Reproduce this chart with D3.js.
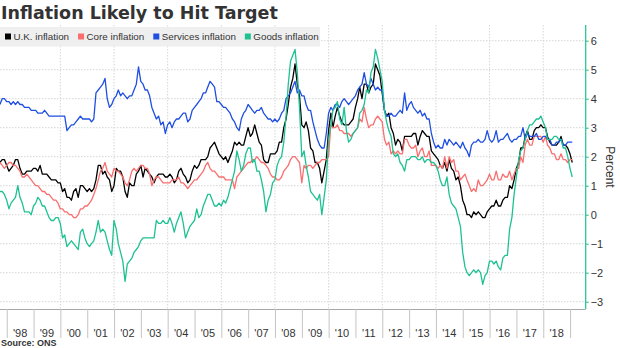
<!DOCTYPE html>
<html>
<head>
<meta charset="utf-8">
<style>
  body { margin: 0; background: #fff; }
  svg { display: block; }
  text { font-family: "Liberation Sans", Arial, sans-serif; fill: #333; }
</style>
</head>
<body>
<svg id="chart" width="620" height="348"></svg>
<script src="https://d3js.org/d3.v7.min.js"></script>
<script>
// monthly readings, Sep 1997 .. Jan 2019 (annual % change)
const firstMonth = [1997, 8]; // Sep 1997

const ukInflation = [
  1.8, 1.9, 1.9, 1.7,
  1.5, 1.6, 1.7, 1.9, 1.9, 1.6, 1.4, 1.4, 1.5, 1.5, 1.5, 1.6,
  1.6, 1.5, 1.7, 1.4, 1.4, 1.4, 1.3, 1.2, 1.2, 1.2, 1.1, 1.1,
  0.8, 0.9, 0.6, 0.6, 0.5, 0.8, 0.9, 0.6, 1.0, 1.0, 0.9, 0.8,
  0.9, 0.8, 0.9, 1.2, 1.7, 1.7, 1.4, 1.5, 1.3, 1.2, 0.8, 1.0,
  1.6, 1.5, 1.5, 1.3, 0.8, 0.6, 1.1, 1.0, 1.0, 1.4, 1.5, 1.7,
  1.3, 1.6, 1.5, 1.4, 1.3, 1.1, 1.3, 1.4, 1.4, 1.4, 1.3, 1.3,
  1.4, 1.3, 1.1, 1.2, 1.5, 1.6, 1.4, 1.3, 1.1, 1.2, 1.5, 1.7,
  1.6, 1.7, 1.9, 1.9, 1.9, 2.0, 2.3, 2.4, 2.5, 2.3, 2.1, 2.0,
  1.9, 2.0, 1.8, 2.0, 2.2, 2.5, 2.4, 2.5, 2.4, 2.4, 2.7, 3.0,
  2.7, 2.8, 3.1, 2.8, 2.5, 2.4, 1.9, 1.8, 1.8, 2.1, 2.1, 2.1,
  2.2, 2.5, 2.5, 3.0, 3.3, 3.8, 4.4, 4.7, 5.2, 4.5, 4.1, 3.1,
  3.0, 3.2, 2.9, 2.3, 2.2, 1.8, 1.8, 1.6, 1.1, 1.5, 1.9, 2.9,
  3.5, 3.0, 3.4, 3.7, 3.4, 3.2, 3.1, 3.1, 3.1, 3.2, 3.3, 3.7,
  4.0, 4.4, 4.0, 4.5, 4.5, 4.2, 4.4, 4.5, 5.2, 5.0, 4.8, 4.2,
  3.6, 3.4, 3.5, 3.0, 2.8, 2.4, 2.6, 2.5, 2.2, 2.7, 2.7, 2.7,
  2.7, 2.8, 2.8, 2.4, 2.7, 2.9, 2.8, 2.7, 2.7, 2.2, 2.1, 2.0,
  1.9, 1.7, 1.6, 1.8, 1.5, 1.9, 1.6, 1.5, 1.2, 1.3, 1.0, 0.5,
  0.3, 0.0, 0.0, -0.1, 0.1, 0.0, 0.1, 0.0, -0.1, -0.1, 0.1, 0.2,
  0.3, 0.3, 0.5, 0.3, 0.3, 0.5, 0.6, 0.6, 1.0, 0.9, 1.2, 1.6,
  1.8, 2.3, 2.3, 2.7, 2.9, 2.6, 2.6, 2.9, 3.0, 3.0, 3.1, 3.0,
  3.0, 2.7, 2.5, 2.4, 2.4, 2.4, 2.5, 2.7, 2.4, 2.4, 2.3, 2.1,
  1.8
];

const coreInflation = [
  1.8, 1.7, 1.6, 1.7,
  1.8, 1.8, 1.7, 1.7, 1.6, 1.5, 1.3, 1.3, 1.4, 1.3, 1.2, 1.1,
  1.0, 1.0, 0.9, 0.8, 0.8, 0.7, 0.7, 0.6, 0.5, 0.5, 0.4, 0.2,
  0.2, 0.1, 0.1, 0.0, 0.0, -0.1, -0.1, 0.0, 0.2, 0.2, 0.3, 0.3,
  0.4, 0.5, 0.7, 0.9, 1.2, 1.5, 1.6, 1.8, 1.5, 1.4, 1.3, 1.6,
  1.5, 1.5, 1.4, 1.3, 1.1, 1.0, 1.2, 1.5, 1.6, 1.5, 1.6, 1.7,
  1.7, 1.6, 1.6, 1.4, 1.0, 1.2, 1.3, 1.3, 1.2, 1.1, 1.1, 1.1,
  1.1, 1.2, 1.2, 1.2, 1.3, 1.1, 1.1, 1.0, 0.9, 1.0, 1.1, 1.2,
  1.2, 1.3, 1.4, 1.5, 1.7, 1.8, 1.6, 1.5, 1.5, 1.4, 1.3, 1.3,
  1.3, 1.2, 1.2, 1.2, 1.2, 0.9, 1.3, 1.4, 1.5, 1.6, 1.7, 1.8,
  1.8, 1.9, 1.9, 2.0, 1.9, 1.8, 1.8, 1.7, 1.6, 1.4, 1.3, 1.3,
  1.2, 1.2, 1.3, 1.5, 1.6, 1.7, 1.9, 2.0, 2.0, 1.9, 1.8, 1.1,
  1.7, 1.6, 1.7, 1.7, 1.6, 1.7, 1.8, 1.8, 1.9, 1.9, 1.9, 2.0,
  3.1, 3.0, 3.0, 3.1, 2.9, 2.9, 2.8, 2.8, 2.8, 2.7, 2.8, 2.9,
  3.0, 3.3, 3.2, 3.7, 3.3, 3.0, 3.1, 3.1, 3.3, 3.4, 3.3, 3.2,
  2.6, 2.4, 2.5, 2.1, 2.2, 2.1, 2.2, 2.1, 2.1, 2.6, 2.6, 2.4,
  2.3, 2.3, 2.4, 2.0, 2.2, 2.3, 2.0, 2.0, 2.2, 1.7, 1.7, 1.7,
  1.6, 1.7, 1.6, 2.0, 1.6, 2.0, 1.8, 1.9, 1.5, 1.5, 1.2, 1.3,
  1.4, 1.2, 1.0, 0.8, 0.9, 0.8, 1.2, 1.0, 1.0, 1.1, 1.2, 1.4,
  1.2, 1.2, 1.5, 1.2, 1.2, 1.4, 1.3, 1.3, 1.5, 1.2, 1.4, 1.6,
  1.6, 2.0, 1.8, 2.4, 2.6, 2.4, 2.4, 2.7, 2.7, 2.7, 2.7, 2.5,
  2.7, 2.4, 2.3, 2.1, 2.1, 1.9, 1.9, 2.1, 1.9, 1.9, 1.8, 1.9,
  1.9
];

const servicesInflation = [
  3.8, 4.0, 4.0, 3.9,
  3.9, 3.8, 3.9, 3.8, 3.9, 3.8, 3.8, 3.7, 3.7, 3.7, 3.6, 3.6,
  3.6, 3.5, 3.5, 3.5, 3.6, 3.5, 3.4, 3.4, 3.4, 3.4, 3.4, 3.4,
  3.4, 3.4, 2.9, 3.0, 3.1, 3.1, 3.2, 3.3, 3.4, 3.3, 3.3, 3.3,
  3.3, 3.2, 3.3, 4.2, 4.3, 4.4, 4.5, 4.7, 4.0, 3.7, 3.8, 4.0,
  4.1, 4.3, 4.1, 4.2, 4.1, 4.0, 4.1, 4.1, 4.3, 4.5, 5.1, 4.6,
  4.5, 4.3, 4.3, 4.1, 3.7, 3.5, 3.3, 3.4, 3.1, 3.2, 2.8, 3.1,
  3.2, 3.0, 3.2, 3.3, 3.3, 3.4, 3.5, 3.5, 3.2, 3.3, 3.6, 3.7,
  3.8, 3.9, 4.0, 4.2, 4.2, 4.4, 4.6, 4.5, 4.4, 3.9, 3.9, 3.8,
  3.7, 3.7, 3.6, 3.5, 3.3, 3.2, 3.0, 2.9, 3.3, 3.5, 3.6, 3.8,
  3.7, 3.6, 3.5, 3.6, 3.6, 3.7, 3.5, 3.4, 3.3, 3.3, 3.2, 3.3,
  3.2, 3.3, 3.5, 3.6, 4.0, 4.1, 4.2, 4.4, 4.6, 4.2, 4.3, 4.1,
  4.1, 3.8, 3.6, 3.6, 3.2, 2.9, 2.6, 2.4, 2.3, 2.3, 2.8, 3.5,
  3.7, 3.6, 3.8, 3.8, 3.7, 3.9, 4.0, 3.9, 3.8, 3.9, 4.0, 4.1,
  4.3, 4.4, 4.5, 4.9, 4.5, 4.4, 4.7, 4.5, 4.3, 4.4, 4.3, 4.3,
  3.6, 3.4, 3.4, 3.5, 3.4, 3.4, 3.5, 3.6, 3.5, 4.2, 3.6, 3.8,
  3.9, 3.7, 3.6, 3.5, 3.6, 3.4, 3.5, 3.3, 3.3, 2.8, 2.5, 2.3,
  2.4, 2.3, 2.3, 2.6, 2.4, 2.6, 2.5, 2.4, 2.5, 2.4, 2.3, 2.5,
  2.3, 2.2, 2.0, 2.4, 2.5, 2.5, 2.6, 2.5, 2.5, 2.6, 2.9, 2.6,
  2.5, 2.6, 2.9, 2.5, 2.6, 2.6, 2.7, 2.8, 2.6, 2.5, 2.6, 2.6,
  2.7, 2.7, 3.0, 2.6, 2.8, 2.7, 2.7, 2.7, 2.8, 2.6, 2.6, 2.7,
  2.7, 2.6, 2.6, 2.4, 2.4, 2.5, 2.5, 2.6, 2.4, 2.4, 2.5, 2.5,
  2.5
];

const goodsInflation = [
  0.8, 0.8, 0.7, 0.5,
  0.2, 0.4, 0.5, 0.6, 1.0, 0.6, 0.4, 0.1, 0.1, 0.1, 0.0, 0.3,
  0.4, 0.6, 0.5, 0.3, 0.3, 0.1, -0.1, -0.2, -0.2, -0.1, -0.1, -0.3,
  -0.8, -0.7, -1.1, -1.0, -0.9, -1.0, -1.1, -1.2, -0.6, -0.5, -0.8, -1.0,
  -1.1, -1.0, -0.9, -0.6, -0.2, -0.6, -0.5, -0.6, -0.9, -1.2, -1.4, -0.2,
  -0.5, -1.0, -1.3, -1.6, -2.3, -1.7, -1.6, -1.5, -1.3, -1.2, -1.1, -0.9,
  -0.8, -0.8, -0.8, -0.8, -0.8, -0.8, -0.2, -0.3, -0.3, -0.2, -0.3, -0.3,
  -0.1, -0.3, -0.6, -0.3, -0.1, 0.1, -0.3, -0.8, -0.6, -0.4, -0.3, -0.2,
  0.2, -0.1, 0.0, 0.3, 0.5, 0.7, 0.7, 0.5, 0.3, 0.3, 0.4, 0.3,
  0.5, 0.4, 0.6, 0.9, 1.2, 1.5, 2.2, 1.9, 1.5, 1.7, 2.1, 2.3,
  2.3, 1.8, 1.9, 1.5, 1.5, 1.2, 0.8, 0.1, 0.5, 0.7, 1.1, 1.2,
  1.7, 1.9, 2.0, 2.5, 3.4, 4.5, 5.3, 5.5, 5.7, 4.9, 3.7, 2.0,
  2.2, 1.7, 1.3, 0.8, 0.7, 0.6, 0.5, 0.7, 0.0, 0.6, 1.2, 2.6,
  3.1, 3.6, 3.7, 3.9, 3.3, 3.1, 3.7, 2.9, 2.5, 2.6, 2.8, 2.9,
  3.0, 3.5, 3.6, 3.8, 4.3, 4.2, 4.9, 5.1, 5.7, 5.4, 5.0, 4.6,
  3.6, 3.2, 2.9, 2.7, 2.1, 2.0, 2.1, 1.8, 1.7, 1.5, 1.9, 1.9,
  2.0, 2.0, 2.0, 1.9, 1.9, 2.0, 1.8, 1.9, 1.9, 1.8, 1.8, 1.7,
  1.5, 1.2, 1.0, 1.0, 1.3, 0.7, 0.4, 0.3, 0.2, -0.1, -0.4, -1.3,
  -1.8, -2.0, -2.1, -2.0, -1.9, -2.0, -1.9, -2.0, -2.4, -2.1, -2.0, -1.6,
  -1.6, -1.7, -1.6, -1.8, -1.9, -1.5, -1.4, -1.4, -0.5, -0.1, 0.7, 1.3,
  1.9, 2.2, 2.3, 2.6, 2.9, 3.1, 3.1, 3.2, 3.3, 3.3, 3.4, 3.2,
  3.0, 2.6, 2.6, 2.6, 2.7, 2.7, 2.6, 2.6, 2.3, 2.3, 2.0, 1.6,
  1.3
];

const seriesNames = ["U.K. inflation", "Core inflation", "Services inflation", "Goods inflation"];
const seriesColors = ["#000000", "#fa6e6e", "#1f4fe0", "#1dc192"];
const seriesValues = [ukInflation, coreInflation, servicesInflation, goodsInflation];
const yearLabels = ["'98", "'99", "'00", "'01", "'02", "'03", "'04", "'05", "'06", "'07",
  "'08", "'09", "'10", "'11", "'12", "'13", "'14", "'15", "'16", "'17", "'18"];
const yTicks = [-3, -2, -1, 0, 1, 2, 3, 4, 5, 6];

const svg = d3.select("#chart");
const plotLeft = 0, plotRight = 585.7, plotTop = 25, plotBottom = 309;

// points are plotted at month end
const dates = ukInflation.map((_, i) => new Date(firstMonth[0], firstMonth[1] + i + 1, 0));

const x = d3.scaleTime()
  .domain([new Date(1997, 9, 1), new Date(2019, 7, 2)])
  .range([plotLeft, plotRight]);
const y = d3.scaleLinear().domain([-3, 6]).range([301.7, 40.7]);

// grid
const grid = svg.append("g");
grid.selectAll("line.h")
  .data(yTicks)
  .enter()
  .append("line")
  .attr("x1", plotLeft)
  .attr("x2", plotRight)
  .attr("y1", (d) => y(d))
  .attr("y2", (d) => y(d))
  .attr("stroke", "#d6d6d6")
  .attr("stroke-dasharray", "1.5,1.5");

const yearStarts = d3.timeYear.range(new Date(1998, 0, 1), new Date(2019, 0, 2));
grid.selectAll("line.v")
  .data(yearStarts.filter((d) => d.getFullYear() % 2 === 0 && d.getFullYear() > 1998))
  .enter()
  .append("line")
  .attr("x1", (d) => x(d))
  .attr("x2", (d) => x(d))
  .attr("y1", plotTop)
  .attr("y2", plotBottom)
  .attr("stroke", "#d6d6d6")
  .attr("stroke-dasharray", "1.5,1.5");

// x axis
const xAxis = svg.append("g")
  .attr("transform", `translate(0,${plotBottom})`)
  .call(d3.axisBottom(x).tickValues(yearStarts).tickSize(29).tickFormat(""));
xAxis.select(".domain").attr("stroke", "#a8a8a8").attr("d", `M${plotLeft},0.5H${plotRight}`);
xAxis.selectAll(".tick line").attr("stroke", "#c4c4c4");

svg.append("g")
  .selectAll("text")
  .data(yearLabels)
  .enter()
  .append("text")
  .attr("x", (d, i) => x(new Date(1998 + i, 6, 2)))
  .attr("y", 337)
  .attr("text-anchor", "middle")
  .attr("font-size", 11)
  .text((d) => d);

// lines
svg.append("clipPath")
  .attr("id", "plot-clip")
  .append("rect")
  .attr("x", plotLeft)
  .attr("y", plotTop)
  .attr("width", plotRight - plotLeft)
  .attr("height", plotBottom - plotTop);

const line = d3.line()
  .x((d, i) => x(dates[i]))
  .y((d) => y(d));

svg.append("g")
  .attr("clip-path", "url(#plot-clip)")
  .selectAll("path")
  .data(seriesValues)
  .enter()
  .append("path")
  .attr("d", line)
  .attr("fill", "none")
  .attr("stroke", (d, i) => seriesColors[i])
  .attr("stroke-width", 1.3)
  .attr("stroke-linejoin", "round");

// right axis
const yAxis = svg.append("g")
  .attr("transform", `translate(${plotRight},0)`)
  .call(d3.axisRight(y).tickValues(yTicks).tickSize(3).tickPadding(2));
yAxis.select(".domain").remove();
yAxis.selectAll(".tick line").attr("stroke", seriesColors[3]);
yAxis.selectAll(".tick text")
  .attr("font-size", 11)
  .attr("font-family", "Liberation Sans, Arial, sans-serif")
  .attr("fill", "#333");
svg.append("line")
  .attr("x1", plotRight)
  .attr("x2", plotRight)
  .attr("y1", plotTop)
  .attr("y2", plotBottom)
  .attr("stroke", seriesColors[3])
  .attr("stroke-width", 1.2);

svg.append("text")
  .attr("transform", "translate(606,167) rotate(90)")
  .attr("text-anchor", "middle")
  .attr("font-size", 12)
  .text("Percent");

// legend
svg.append("rect")
  .attr("x", 0)
  .attr("y", 27)
  .attr("width", 320)
  .attr("height", 19.5)
  .attr("fill", "#efefef");

let lx = 5;
seriesNames.forEach((name, i) => {
  svg.append("rect")
    .attr("x", lx)
    .attr("y", 33.5)
    .attr("width", 6)
    .attr("height", 6)
    .attr("fill", seriesColors[i]);
  const t = svg.append("text")
    .attr("x", lx + 8.5)
    .attr("y", 40)
    .attr("font-size", 9.8)
    .text(name);
  lx += 8.5 + t.node().getComputedTextLength() + 9;
});

// title and source
svg.append("text")
  .attr("x", 1)
  .attr("y", 19)
  .attr("font-weight", "bold")
  .attr("font-size", 17.5)
  .attr("fill", "#000")
  .style("font-family", "'DejaVu Sans', sans-serif")
  .text("Inflation Likely to Hit Target");

svg.append("text")
  .attr("x", 1)
  .attr("y", 346)
  .attr("font-weight", "bold")
  .attr("font-size", 9)
  .attr("fill", "#000")
  .text("Source: ONS");
</script>
</body>
</html>
